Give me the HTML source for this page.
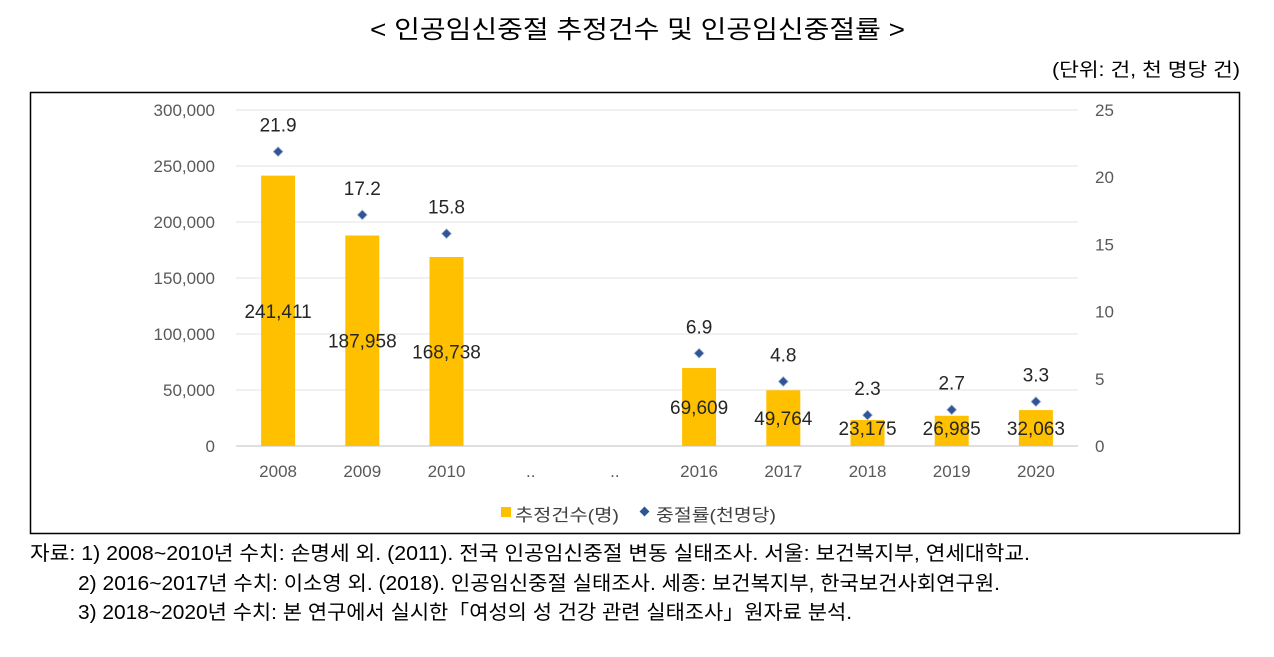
<!DOCTYPE html>
<html><head><meta charset="utf-8"><style>
body{margin:0;background:#fff;width:1274px;height:652px;overflow:hidden;font-family:"Liberation Sans","Noto Sans CJK KR",sans-serif;}
</style></head><body>
<svg width="1274" height="652" font-family="Liberation Sans, Noto Sans CJK KR, sans-serif">
<text x="370" y="38" textLength="535" lengthAdjust="spacingAndGlyphs" font-size="25" fill="#000">&lt; 인공임신중절 추정건수 및 인공임신중절률 &gt;</text>
<text x="1052" y="76" textLength="188" lengthAdjust="spacingAndGlyphs" font-size="19" fill="#000">(단위: 건, 천 명당 건)</text>
<rect x="30.5" y="92.5" width="1209" height="441" fill="none" stroke="#000" stroke-width="1.5"/>
<g id="grid"></g><g id="bars"></g><g id="marks"></g><g id="axes"></g>
<g>
<rect x="501" y="507" width="10" height="10" fill="#ffc000"/>
<text x="515" y="521" textLength="104" lengthAdjust="spacingAndGlyphs" font-size="17" fill="#404040">추정건수(명)</text>
<rect x="641" y="508" width="7" height="7" fill="#2f5597" transform="rotate(45 644.5 511.5)"/>
<text x="656" y="521" textLength="120" lengthAdjust="spacingAndGlyphs" font-size="17" fill="#404040">중절률(천명당)</text>
</g>
<g font-size="20" fill="#000">
<text x="30" y="560" textLength="1000" lengthAdjust="spacingAndGlyphs">자료: 1) 2008~2010년 수치: 손명세 외. (2011). 전국 인공임신중절 변동 실태조사. 서울: 보건복지부, 연세대학교.</text>
<text x="78" y="590" textLength="922" lengthAdjust="spacingAndGlyphs">2) 2016~2017년 수치: 이소영 외. (2018). 인공임신중절 실태조사. 세종: 보건복지부, 한국보건사회연구원.</text>
<text x="78" y="619" textLength="774" lengthAdjust="spacingAndGlyphs">3) 2018~2020년 수치: 본 연구에서 실시한「여성의 성 건강 관련 실태조사」원자료 분석.</text>
</g>
</svg>
<script>
const categories=["2008","2009","2010","..","..","2016","2017","2018","2019","2020"];
const counts=[241411,187958,168738,null,null,69609,49764,23175,26985,32063];
const rates=[21.9,17.2,15.8,null,null,6.9,4.8,2.3,2.7,3.3];
const leftTicks=[0,50000,100000,150000,200000,250000,300000];
const rightTicks=[0,5,10,15,20,25];
const NS="http://www.w3.org/2000/svg";
const x0=236,step=84.2,yTop=110,yBot=446;
const xPos=i=>x0+step*(i+0.5);
const yL=v=>yBot-(v/300000)*(yBot-yTop);
const yR=v=>yBot-(v/25)*(yBot-yTop);
function mk(tag,attrs,parent,txt){const e=document.createElementNS(NS,tag);for(const k in attrs)e.setAttribute(k,attrs[k]);if(txt!=null)e.textContent=txt;document.getElementById(parent).appendChild(e);return e;}
const fmt=v=>v.toLocaleString("en-US");
leftTicks.forEach(t=>{
  const g=mk("line",{x1:x0,x2:x0+step*10,y1:yL(t),y2:yL(t),stroke:t===0?"#bfbfbf":"#e3e3e3","stroke-width":1},"grid");
  
  
  const l=mk("text",{x:215,y:yL(t)+6,"text-anchor":"end","font-size":17,fill:"#595959"},"axes",fmt(t));
  
  
});
rightTicks.forEach(t=>{
  const l=mk("text",{x:1095,y:yR(t)+6,"font-size":17,fill:"#595959"},"axes",String(t));
  
  
});
categories.forEach((c,i)=>{
  const l=mk("text",{x:xPos(i),y:477,"text-anchor":"middle","font-size":17,fill:"#595959"},"axes",c);
  
  
  if(counts[i]!=null){
    const y=yL(counts[i]);
    const b=mk("rect",{x:xPos(i)-17,y:y,width:34,height:yBot-y,fill:"#ffc000"},"bars");
    
    
    const t=mk("text",{x:xPos(i),y:Math.min((y+yBot)/2,428)+7,"text-anchor":"middle","font-size":19,fill:"#262626"},"marks",fmt(counts[i]));
    
    
  }
  if(rates[i]!=null){
    const y=yR(rates[i]);
    const d=mk("rect",{x:xPos(i)-3.5,y:y-3.5,width:7,height:7,fill:"#2f5597",stroke:"#b4c0d8","stroke-width":0.8,transform:`rotate(45 ${xPos(i)} ${y})`},"marks");
    
    
    const t=mk("text",{x:xPos(i),y:y-20,"text-anchor":"middle","font-size":19,fill:"#262626"},"marks",rates[i].toFixed(1));
    
    
  }
});
</script>
</body></html>
